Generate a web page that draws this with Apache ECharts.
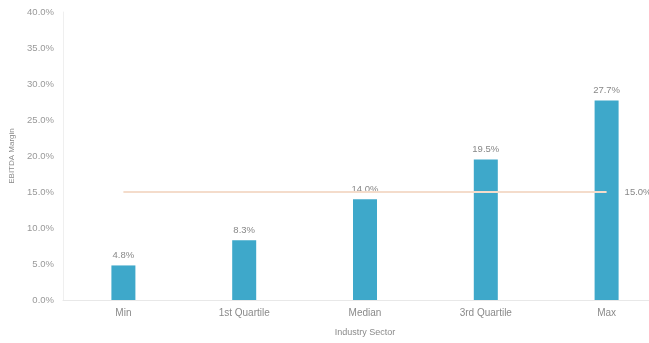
<!DOCTYPE html>
<html>
<head>
<meta charset="utf-8">
<script src="https://cdn.jsdelivr.net/npm/echarts@6/dist/echarts.min.js"></script>
<style>
  html, body { margin: 0; padding: 0; background: #fff; overflow: hidden; }
  /* the original chart runs past the right edge of the frame */
  #main { width: 667px; height: 343px; }
</style>
</head>
<body>
<div id="main"></div>
<script>
// sector stats
var categories = ['Min', '1st Quartile', 'Median', '3rd Quartile', 'Max'];
var margins = [4.8, 8.3, 14.0, 19.5, 27.7];
var target = [15, 15, 15, 15, 15];

var chart = echarts.init(document.getElementById('main'));

function pct(v) { return v.toFixed(1) + '%'; }

var option = {
  animation: false,
  textStyle: { fontFamily: 'Liberation Sans, Arial, sans-serif' },
  grid: { left: 62, right: 0, top: 12, bottom: 43 },
  xAxis: {
    type: 'category',
    data: categories,
    name: 'Industry Sector',
    nameLocation: 'middle',
    nameGap: 28,
    nameTextStyle: { color: '#8a8a8a', fontSize: 9 },
    axisLine: { lineStyle: { color: '#e8e8e8' } },
    axisTick: { show: false },
    axisLabel: { color: '#8a8a8a', fontSize: 10, margin: 8 }
  },
  yAxis: {
    type: 'value',
    min: 0,
    max: 40,
    interval: 5,
    name: 'EBITDA Margin',
    nameLocation: 'middle',
    nameGap: 47,
    nameTextStyle: { color: '#8a8a8a', fontSize: 8 },
    axisLine: { show: true, lineStyle: { color: '#efefef' } },
    axisTick: { show: false },
    splitLine: { show: false },
    axisLabel: {
      color: '#999', fontSize: 9.5, margin: 9,
      formatter: pct
    }
  },
  series: [
    {
      type: 'bar',
      data: margins,
      barWidth: 24,
      itemStyle: { color: '#3ea8ca' },
      label: {
        show: true,
        position: 'top',
        distance: 5,
        color: '#888',
        fontSize: 9.5,
        formatter: function (p) { return pct(p.value); }
      }
    },
    {
      type: 'line',
      data: target,
      symbol: 'none',
      lineStyle: { color: '#f4dccb', width: 2 },
      endLabel: {
        show: true,
        color: '#888',
        fontSize: 9.5,
        distance: 18,
        formatter: function (p) { return pct(p.value); }
      },
      z: 3
    }
  ]
};

chart.setOption(option);
</script>
</body>
</html>
